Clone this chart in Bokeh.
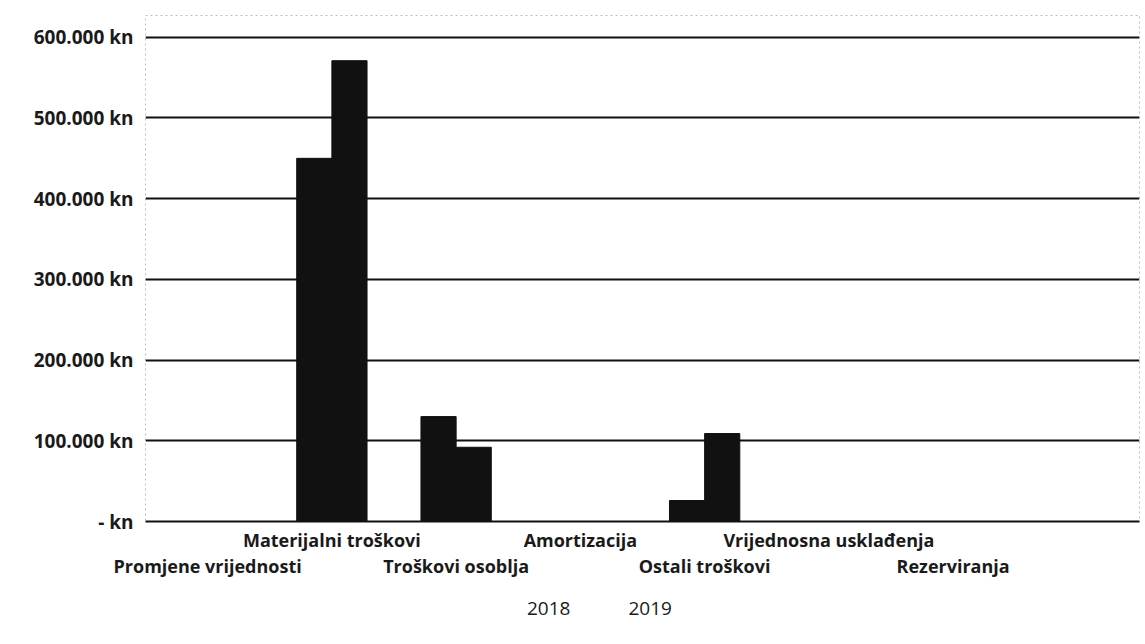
import numpy as np
from bokeh.plotting import figure
from bokeh.layouts import column
from bokeh.models import (ColumnDataSource, Range1d, LinearAxis, FixedTicker,
                          Legend, LegendItem, CDSView, IndexFilter)
from bokeh.transform import dodge
from bokeh.embed import file_html
from bokeh.resources import INLINE

# ---- data ----
categories = ["Promjene vrijednosti", "Materijalni troškovi", "Troškovi osoblja",
              "Amortizacija", "Ostali troškovi", "Vrijednosna usklađenja", "Rezerviranja"]
values_2018 = [0, 450000, 130000, 0, 26000, 0, 0]
values_2019 = [0, 571000, 92000, 0, 109000, 0, 0]
series_names = ["2018", "2019"]
y_ticks = [0, 100000, 200000, 300000, 400000, 500000, 600000]
y_tick_labels = ["- kn", "100.000 kn", "200.000 kn", "300.000 kn",
                 "400.000 kn", "500.000 kn", "600.000 kn"]

FONT = "Open Sans"
BAR = "#111111"

x_pos = list(np.arange(len(categories)) + 0.5)
src = ColumnDataSource(dict(x=x_pos, cat=categories, v2018=values_2018, v2019=values_2019))

p = figure(frame_width=994, frame_height=506, x_range=Range1d(0, 8), y_range=Range1d(0, 627000),
           output_backend="svg", toolbar_location=None, x_axis_location=None,
           min_border_left=145, min_border_right=4, min_border_top=15, min_border_bottom=68)

p.background_fill_color = "white"
p.border_fill_color = "white"
p.outline_line_color = "#bdbdbd"
p.outline_line_dash = "2 3"
p.outline_line_width = 1

w = 0.283
r1 = p.vbar(x=dodge("x", -w / 2, range=p.x_range), top="v2018", width=w, source=src,
            fill_color=BAR, line_color=BAR)
r2 = p.vbar(x=dodge("x", w / 2, range=p.x_range), top="v2019", width=w, source=src,
            fill_color=BAR, line_color=BAR)

# y axis
yax = p.yaxis[0]
yax.ticker = FixedTicker(ticks=y_ticks)
yax.major_label_overrides = {t: l for t, l in zip(y_ticks, y_tick_labels)}
yax.axis_line_color = None
yax.major_tick_line_color = None
yax.minor_tick_line_color = None
yax.major_label_standoff = 6
yax.major_label_text_font = FONT
yax.major_label_text_font_style = "bold"
yax.major_label_text_font_size = "19px"
yax.major_label_text_color = "#1a1a1a"

p.ygrid.ticker = FixedTicker(ticks=y_ticks)
p.ygrid.grid_line_color = "#111111"
p.ygrid.grid_line_width = 2
p.xgrid.grid_line_color = None

# staggered category axes
upper_idx = list(range(1, len(categories), 2))
lower_idx = list(range(0, len(categories), 2))

ax_up = LinearAxis(ticker=FixedTicker(ticks=[x_pos[i] for i in upper_idx]),
                   major_label_overrides={x_pos[i]: categories[i] for i in upper_idx})
ax_lo = LinearAxis(ticker=FixedTicker(ticks=[x_pos[i] for i in lower_idx]),
                   major_label_overrides={x_pos[i]: categories[i] for i in lower_idx})
for ax, standoff in ((ax_up, 0), (ax_lo, -7)):
    ax.major_tick_line_color = None
    ax.minor_tick_line_color = None
    ax.major_label_standoff = standoff
    ax.major_label_text_font = FONT
    ax.major_label_text_font_style = "bold"
    ax.major_label_text_font_size = "18px"
    ax.major_label_text_color = "#1a1a1a"
ax_up.axis_line_color = "#111111"
ax_up.axis_line_width = 2
ax_lo.axis_line_color = None
p.add_layout(ax_up, "below")
p.add_layout(ax_lo, "below")

# legend strip below the chart (swatch renderers are filtered out of view)
lf = figure(width=1143, height=42, x_range=Range1d(0, 1), y_range=Range1d(0, 1),
            output_backend="svg", toolbar_location=None,
            x_axis_location=None, y_axis_location=None, min_border=0)
lf.outline_line_color = None
lf.grid.visible = False
lf.background_fill_color = "white"
lf.border_fill_color = "white"
swatch = ColumnDataSource(dict(x=[10], top=[-5], bottom=[-6]))
hidden = CDSView(filter=IndexFilter(indices=[]))
l1 = lf.vbar(x="x", top="top", bottom="bottom", width=0.1, source=swatch, view=hidden,
             fill_color=BAR, line_color=BAR)
l2 = lf.vbar(x="x", top="top", bottom="bottom", width=0.1, source=swatch, view=hidden,
             fill_color=BAR, line_color=BAR)

legend = Legend(items=[LegendItem(label=series_names[0], renderers=[l1]),
                       LegendItem(label=series_names[1], renderers=[l2])],
                orientation="horizontal", location=(339, 10))
legend.glyph_width = 34
legend.glyph_height = 20
legend.label_standoff = 9
legend.spacing = 15
legend.padding = 4
legend.margin = 0
legend.border_line_color = None
legend.background_fill_alpha = 0
legend.label_text_font = FONT
legend.label_text_font_size = "19px"
legend.label_text_color = "#1a1a1a"
lf.add_layout(legend)

open("out.html", "w").write(file_html(column(p, lf, spacing=0), INLINE))
